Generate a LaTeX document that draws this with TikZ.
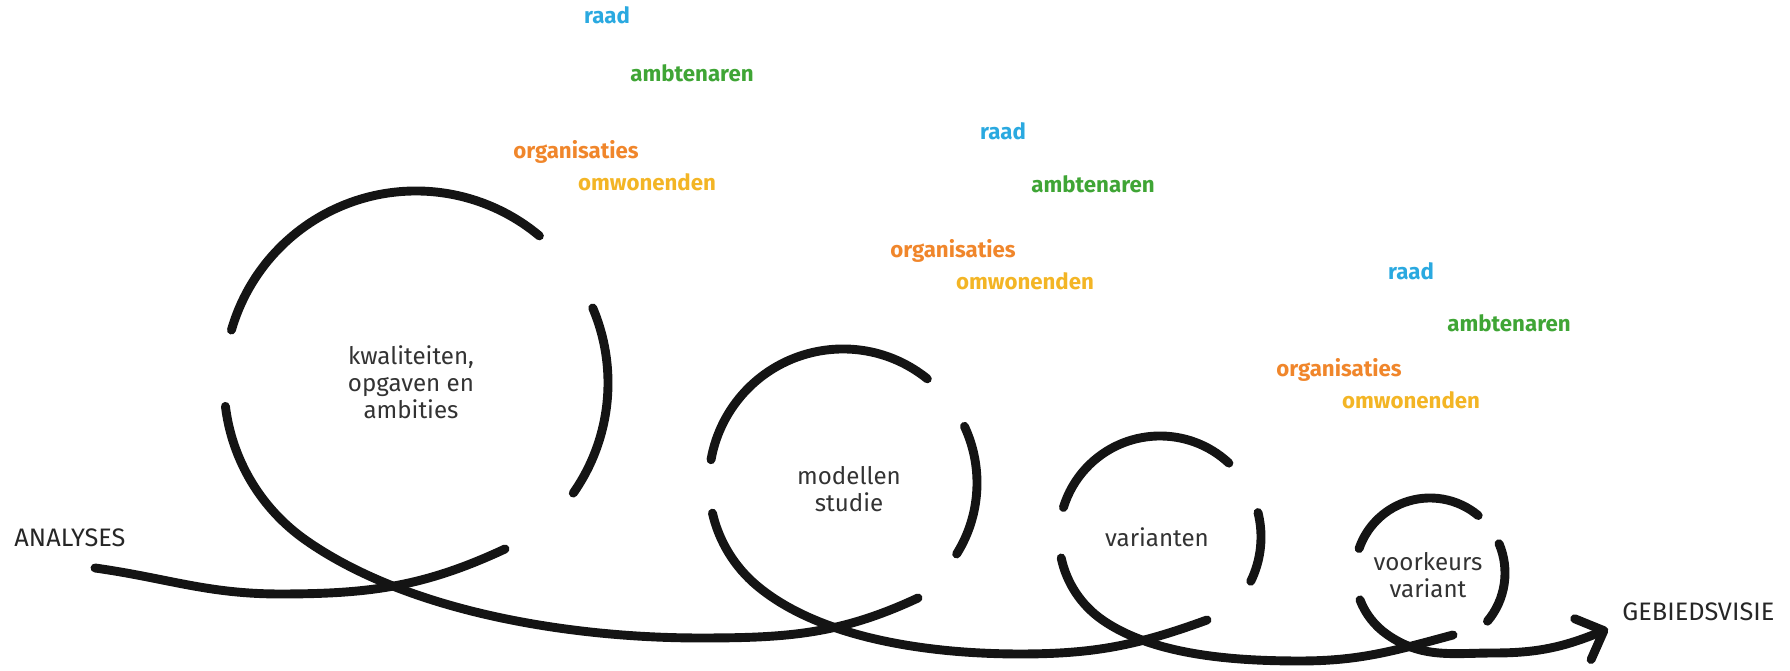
\documentclass[tikz,border=0pt]{standalone}
\usepackage{fontspec}
\setmainfont{Fira Sans}
\usetikzlibrary{arrows.meta}
\definecolor{raadblue}{HTML}{2AA9E0}
\definecolor{ambtgreen}{HTML}{3FA535}
\definecolor{orgorange}{HTML}{F0862B}
\definecolor{omwyellow}{HTML}{F3B525}
\begin{document}
\begin{tikzpicture}[x=0.15mm,y=0.15mm,
    loop/.style={line width=3.8pt,line cap=round,color=black!92},
    inner/.style={align=center,font=\fontsize{10.3}{11.6}\selectfont,text=black!80},
    who/.style={font=\fontsize{9.5}{11}\selectfont\bfseries},
    endlabel/.style={font=\fontsize{10.8}{12}\selectfont,text=black!85,inner sep=0pt,anchor=west}]
      \useasboundingbox (0,0) rectangle (1790,671);
      \coordinate (c1) at (416,288);
      \coordinate (c2) at (843,188);
      \coordinate (c3) at (1160,134);
      \coordinate (c4) at (1430,98);
      \coordinate (start) at (95,103);
      \coordinate (tip) at (1608,42);
      % aanloop en eerste lus
      \draw[loop] (start) to[out=-8,in=180] (280,77) to[out=0,in=205] (505,122);
      \draw[loop] ([shift={(-35:192)}]c1) arc (-35:23:192);
      \draw[loop] ([shift={(50:192)}]c1) arc (50:164:192);
      \draw[loop] ([shift={(187:192)}]c1) arc (187:235:192) to[out=-35,in=180,looseness=0.8] (700,33) to[out=0,in=205] (918,73);
      % tweede lus
      \draw[loop] ([shift={(-32:134)}]c2) arc (-32:25:134);
      \draw[loop] ([shift={(51:134)}]c2) arc (51:170:134);
      \draw[loop] ([shift={(193:134)}]c2) arc (193:230:134) to[out=-40,in=180,looseness=0.8] (1020,17) to[out=0,in=200] (1207,51);
      % derde lus
      \draw[loop] ([shift={(-26:101)}]c3) arc (-26:14:101);
      \draw[loop] ([shift={(47:101)}]c3) arc (47:163:101);
      \draw[loop] ([shift={(192:101)}]c3) arc (192:235:101) to[out=-35,in=180,looseness=0.8] (1300,10) to[out=0,in=195] (1453,36);
      % vierde lus en pijl
      \draw[loop] ([shift={(-40:75)}]c4) arc (-40:23:75);
      \draw[loop] ([shift={(50:75)}]c4) arc (50:161:75);
      \draw[loop,-{Straight Barb[length=3.4mm,width=6.6mm,round]}] ([shift={(201:75)}]c4) arc (201:235:75) to[out=-35,in=180] (1495,18) to[out=0,in=202] (tip);
      \node[inner] (kwal) at (411,289) {kwaliteiten,\\opgaven en\\ambities};
      \node[inner] (model) at (849,182) {modellen\\studie};
      \node[inner] (var) at (1157,134) {varianten};
      \node[inner] (voork) at (1428,96) {voorkeurs\\variant};
      \node[endlabel] (analyses) at (14,133) {ANALYSES};
      \node[endlabel] (visie) at (1622,59) {GEBIEDSVISIE};
      % wie doet mee
      \node[who,text=raadblue] (raad1) at (607,656) {raad};
      \node[who,text=ambtgreen] (ambt1) at (692,598) {ambtenaren};
      \node[who,text=orgorange] (org1) at (576,519) {organisaties};
      \node[who,text=omwyellow] (omw1) at (647,489) {omwonenden};
      \node[who,text=raadblue] (raad2) at (1003,540) {raad};
      \node[who,text=ambtgreen] (ambt2) at (1093,487) {ambtenaren};
      \node[who,text=orgorange] (org2) at (953,420) {organisaties};
      \node[who,text=omwyellow] (omw2) at (1025,390) {omwonenden};
      \node[who,text=raadblue] (raad3) at (1411,400) {raad};
      \node[who,text=ambtgreen] (ambt3) at (1509,348) {ambtenaren};
      \node[who,text=orgorange] (org3) at (1339,301) {organisaties};
      \node[who,text=omwyellow] (omw3) at (1411,271) {omwonenden};
\end{tikzpicture}
\end{document}
